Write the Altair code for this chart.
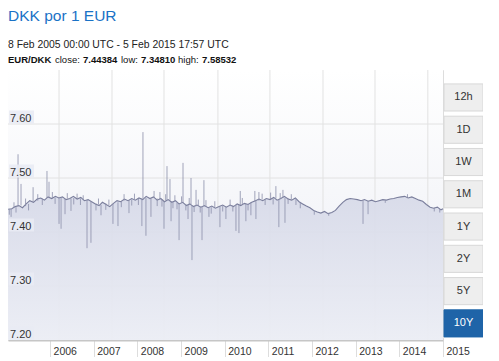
import altair as alt
import pandas as pd

FONT = "Liberation Sans"

# ---- base EUR/DKK series (monthly readings) ----
v2005 = [7.442, 7.443, 7.447, 7.449, 7.445, 7.452, 7.458, 7.455, 7.461, 7.463, 7.459, 7.465]
v2006 = [7.462, 7.466, 7.463, 7.465, 7.460, 7.462, 7.466, 7.461, 7.464, 7.458, 7.460, 7.456]
v2007 = [7.452, 7.449, 7.455, 7.451, 7.447, 7.453, 7.458, 7.456, 7.461, 7.458, 7.462, 7.459]
v2008 = [7.463, 7.460, 7.466, 7.462, 7.465, 7.459, 7.462, 7.456, 7.460, 7.455, 7.458, 7.452]
v2009 = [7.455, 7.449, 7.452, 7.447, 7.450, 7.446, 7.449, 7.445, 7.448, 7.444, 7.447, 7.450]
v2010 = [7.446, 7.450, 7.447, 7.452, 7.449, 7.453, 7.451, 7.455, 7.458, 7.461, 7.458, 7.462]
v2011 = [7.460, 7.464, 7.459, 7.462, 7.466, 7.461, 7.459, 7.463, 7.456, 7.452, 7.448, 7.445]
v2012 = [7.440, 7.437, 7.435, 7.438, 7.434, 7.436, 7.440, 7.448, 7.455, 7.460, 7.462, 7.461]
v2013 = [7.460, 7.458, 7.460, 7.457, 7.459, 7.456, 7.458, 7.460, 7.459, 7.461, 7.462, 7.464]
v2014 = [7.465, 7.466, 7.463, 7.465, 7.462, 7.459, 7.457, 7.451, 7.446, 7.444, 7.446, 7.441]
v2015 = [7.443]
values = v2005 + v2006 + v2007 + v2008 + v2009 + v2010 + v2011 + v2012 + v2013 + v2014 + v2015
dates = [f"{y}-{m:02d}-15" for y in range(2005, 2015) for m in range(1, 13)] + ["2015-01-01"]

# ---- short-lived spikes (date, from, to) ----
spike_dates = ["2005-02-09", "2005-04-08", "2005-05-03", "2005-08-12", "2005-12-06", "2005-12-23",
               "2006-03-17", "2006-04-03", "2006-05-06", "2006-06-25", "2006-11-06", "2006-12-09",
               "2007-03-03", "2007-06-11", "2007-07-23", "2007-10-23", "2008-02-08", "2008-02-17",
               "2008-03-13", "2008-04-24", "2008-08-11", "2008-09-05", "2008-09-30", "2008-10-09",
               "2008-12-15", "2009-01-17", "2009-02-28", "2009-03-25", "2009-04-02", "2009-05-06",
               "2009-06-25", "2009-07-11", "2009-08-22", "2009-11-22", "2010-01-11", "2010-04-05",
               "2010-04-30", "2010-05-11", "2010-06-27", "2010-08-08", "2010-09-10", "2010-09-19",
               "2010-10-14", "2011-03-05", "2011-03-30", "2011-05-03", "2011-05-20", "2013-03-03",
               "2013-04-14"]
spike_from = [7.443, 7.447, 7.449, 7.456, 7.463, 7.464,
              7.464, 7.464, 7.462, 7.462, 7.459, 7.457,
              7.450, 7.452, 7.455, 7.459, 7.462, 7.462,
              7.463, 7.462, 7.457, 7.459, 7.458, 7.457,
              7.453, 7.454, 7.451, 7.451, 7.450, 7.448,
              7.447, 7.447, 7.446, 7.447, 7.447, 7.450,
              7.450, 7.450, 7.452, 7.455, 7.456, 7.457,
              7.458, 7.462, 7.461, 7.463, 7.464, 7.459,
              7.458]
spike_to = [7.428, 7.544, 7.489, 7.483, 7.513, 7.493,
            7.415, 7.406, 7.433, 7.439, 7.370, 7.380,
            7.431, 7.415, 7.411, 7.435, 7.411, 7.585,
            7.393, 7.428, 7.406, 7.522, 7.498, 7.420,
            7.385, 7.528, 7.424, 7.500, 7.348, 7.478,
            7.385, 7.496, 7.428, 7.409, 7.424, 7.402,
            7.398, 7.476, 7.420, 7.431, 7.476, 7.424,
            7.474, 7.485, 7.409, 7.478, 7.417, 7.415,
            7.433]

# ---- small day-to-day wiggles (date, from, to) ----
wig_dates = ["2005-01-25", "2005-03-05", "2005-03-22", "2005-06-10", "2005-07-05", "2005-09-20",
             "2005-10-28", "2006-01-20", "2006-02-12", "2006-05-25", "2006-07-18", "2006-08-15",
             "2006-09-12", "2006-10-05", "2007-01-20", "2007-02-10", "2007-04-12", "2007-05-08",
             "2007-08-20", "2007-09-12", "2007-11-15", "2007-12-08", "2008-01-10", "2008-05-20",
             "2008-06-15", "2008-07-08", "2008-07-25", "2008-08-25", "2008-10-25", "2008-11-10",
             "2008-11-28", "2009-01-05", "2009-02-10", "2009-03-10", "2009-04-20", "2009-05-25",
             "2009-06-10", "2009-07-28", "2009-09-10", "2009-10-10", "2009-12-15", "2010-02-15",
             "2010-03-10", "2010-05-28", "2010-07-15", "2010-11-10", "2010-12-05", "2011-01-20",
             "2011-02-10", "2011-04-10", "2011-06-15", "2011-07-12", "2011-08-20", "2011-09-25",
             "2012-01-20", "2012-05-20", "2013-09-05", "2014-03-10", "2014-10-20", "2014-12-05"]
wig_from = [7.442, 7.445, 7.446, 7.448, 7.452, 7.458,
            7.462, 7.463, 7.464, 7.462, 7.463, 7.463,
            7.462, 7.460, 7.453, 7.451, 7.453, 7.449,
            7.457, 7.458, 7.460, 7.460, 7.461, 7.463,
            7.462, 7.460, 7.461, 7.458, 7.456, 7.457,
            7.455, 7.454, 7.452, 7.451, 7.449, 7.448,
            7.447, 7.448, 7.446, 7.446, 7.448, 7.448,
            7.449, 7.451, 7.452, 7.460, 7.460, 7.461,
            7.462, 7.461, 7.463, 7.460, 7.461, 7.454,
            7.439, 7.435, 7.459, 7.464, 7.445, 7.443]
wig_to = [7.432, 7.455, 7.436, 7.462, 7.440, 7.470,
          7.450, 7.474, 7.452, 7.472, 7.451, 7.471,
          7.450, 7.468, 7.440, 7.462, 7.441, 7.460,
          7.446, 7.470, 7.449, 7.471, 7.450, 7.476,
          7.448, 7.474, 7.447, 7.470, 7.444, 7.468,
          7.442, 7.466, 7.440, 7.463, 7.437, 7.460,
          7.436, 7.459, 7.434, 7.457, 7.438, 7.460,
          7.438, 7.463, 7.440, 7.471, 7.450, 7.473,
          7.451, 7.472, 7.452, 7.470, 7.450, 7.444,
          7.432, 7.430, 7.454, 7.470, 7.438, 7.436]

grid_dates = ["2006-03-17", "2007-06-03", "2008-08-11", "2009-11-05",
              "2011-01-14", "2012-04-02", "2013-06-11", "2014-08-27"]
y_ticks = [7.20, 7.30, 7.40, 7.50, 7.60]
year_ticks = list(range(2006, 2016))
buttons = ["12h", "1D", "1W", "1M", "1Y", "2Y", "5Y", "10Y"]
selected = "10Y"

title = "DKK por 1 EUR"
subtitle = "8 Feb 2005 00:00 UTC - 5 Feb 2015 17:57 UTC"
info_text = ["EUR/DKK", "close:", "7.44384", "low:", "7.34810", "high:", "7.58532"]
info_bold = [True, False, True, False, True, False, True]
info_x = [0, 47, 75, 113, 133, 170, 194]

W, H = 435, 270

df = pd.DataFrame({"date": dates, "rate": values})
spikes = pd.DataFrame({"date": spike_dates + wig_dates, "a": spike_from + wig_from,
                       "b": spike_to + wig_to})
grid = pd.DataFrame({"date": grid_dates})
ylab = pd.DataFrame({"v": y_ticks})
hgrid = pd.DataFrame({"v": y_ticks[1:]})
btn = pd.DataFrame({"label": buttons})

xscale = alt.Scale(type="utc",
                   domain=[alt.DateTime(year=2005, month=1, date=14, utc=True),
                           alt.DateTime(year=2015, month=1, date=1, utc=True)])
yscale = alt.Scale(domain=[7.2, 7.7], zero=False, nice=False)

xaxis = alt.Axis(values=[alt.DateTime(year=y, month=1, date=1, utc=True) for y in year_ticks],
                 format="%Y", formatType="utc", title=None, grid=False,
                 labelAlign="left", labelOffset=3, labelBaseline="alphabetic",
                 tickSize=17, tickColor="#dddddd", labelPadding=-3,
                 domainColor="#c6c6c6", domainWidth=2, labelOverlap=False,
                 labelFont=FONT, labelFontSize=10.5, labelColor="#333333")

X = alt.X("date:T", scale=xscale, axis=xaxis)

bg = alt.Chart(pd.DataFrame({"k": [0]})).mark_rect(
    fill=alt.LinearGradient(gradient="linear", x1=0, x2=0, y1=0, y2=1,
                            stops=[alt.GradientStop(color="#ffffff", offset=0),
                                   alt.GradientStop(color="#ebedf4", offset=1)])
).encode(x=alt.value(0), x2=alt.value(W), y=alt.value(0), y2=alt.value(H))

vgrid = alt.Chart(grid).mark_rule(color="#e2e2e2", strokeWidth=1).encode(x=X)
hg = alt.Chart(hgrid).mark_rule(color="#e2e2e2", strokeWidth=1).encode(
    y=alt.Y("v:Q", scale=yscale, axis=None))

area = alt.Chart(df).mark_area(
    fill=alt.LinearGradient(gradient="linear", x1=0, x2=0, y1=0, y2=1,
                            stops=[alt.GradientStop(color="#d6d9e8", offset=0),
                                   alt.GradientStop(color="#eceef5", offset=1)]),
    opacity=0.9
).encode(x=X, y=alt.Y("rate:Q", scale=yscale, axis=None), y2=alt.datum(7.2))

line = alt.Chart(df).mark_line(color="#7a7e9c", strokeWidth=1.1).encode(
    x=X, y=alt.Y("rate:Q", scale=yscale, axis=None))

sp = alt.Chart(spikes).mark_rule(color="#8a8ea9", strokeWidth=0.8).encode(
    x=X, y=alt.Y("a:Q", scale=yscale, axis=None), y2="b:Q")

labbox = alt.Chart(ylab).mark_rect(color="#e9ebf4", opacity=0.9, height=13, yOffset=-7).encode(
    x=alt.value(1), x2=alt.value(26), y=alt.Y("v:Q", scale=yscale, axis=None))
labtxt = alt.Chart(ylab).mark_text(align="left", baseline="alphabetic", dy=-2, font=FONT,
                                   fontSize=11, color="#333333").encode(
    x=alt.value(2), y=alt.Y("v:Q", scale=yscale, axis=None),
    text=alt.Text("v:Q", format=".2f"))

head = [alt.Chart(pd.DataFrame({"t": [title]})).mark_text(
            align="left", baseline="alphabetic", font=FONT, fontSize=15.5, color="#1a72c6").encode(
            x=alt.value(0), y=alt.value(-49), text="t:N"),
        alt.Chart(pd.DataFrame({"t": [subtitle]})).mark_text(
            align="left", baseline="alphabetic", font=FONT, fontSize=10.4, color="#222222").encode(
            x=alt.value(0), y=alt.value(-22), text="t:N")]
for t, b, xx in zip(info_text, info_bold, info_x):
    head.append(alt.Chart(pd.DataFrame({"t": [t]})).mark_text(
        align="left", baseline="alphabetic", font=FONT, fontSize=9.5, color="#111111",
        fontWeight="bold" if b else "normal").encode(x=alt.value(xx), y=alt.value(-7), text="t:N"))

main = alt.layer(bg, vgrid, hg, area, line, sp, labbox, labtxt, *head)

by = alt.Y("label:N", sort=buttons, axis=None,
           scale=alt.Scale(paddingInner=0.16, paddingOuter=0.263, align=0.82))
brect = alt.Chart(btn).mark_rect(strokeWidth=1).encode(
    x=alt.value(W + 1), x2=alt.value(W + 40), y=by,
    fill=alt.condition(alt.datum.label == selected, alt.value("#1f64a8"), alt.value("#eeeeee")),
    stroke=alt.condition(alt.datum.label == selected, alt.value("#1f64a8"), alt.value("#d8d8d8")))
btext = alt.Chart(btn).mark_text(font=FONT, fontSize=11, baseline="middle").encode(
    x=alt.value(W + 20.5), y=by, text="label:N",
    color=alt.condition(alt.datum.label == selected, alt.value("#ffffff"), alt.value("#333333")))
btns = alt.layer(brect, btext)

chart = alt.layer(main, btns).resolve_scale(y="independent").properties(
    width=W, height=H,
    autosize=alt.AutoSizeParams(type="none"),
    padding={"left": 0, "top": 62, "right": 40, "bottom": 17},
).configure_view(stroke="#d4d4d4", strokeWidth=1).configure(background="#ffffff")

chart.save("out.html", embed_options={"renderer": "svg", "actions": False})
